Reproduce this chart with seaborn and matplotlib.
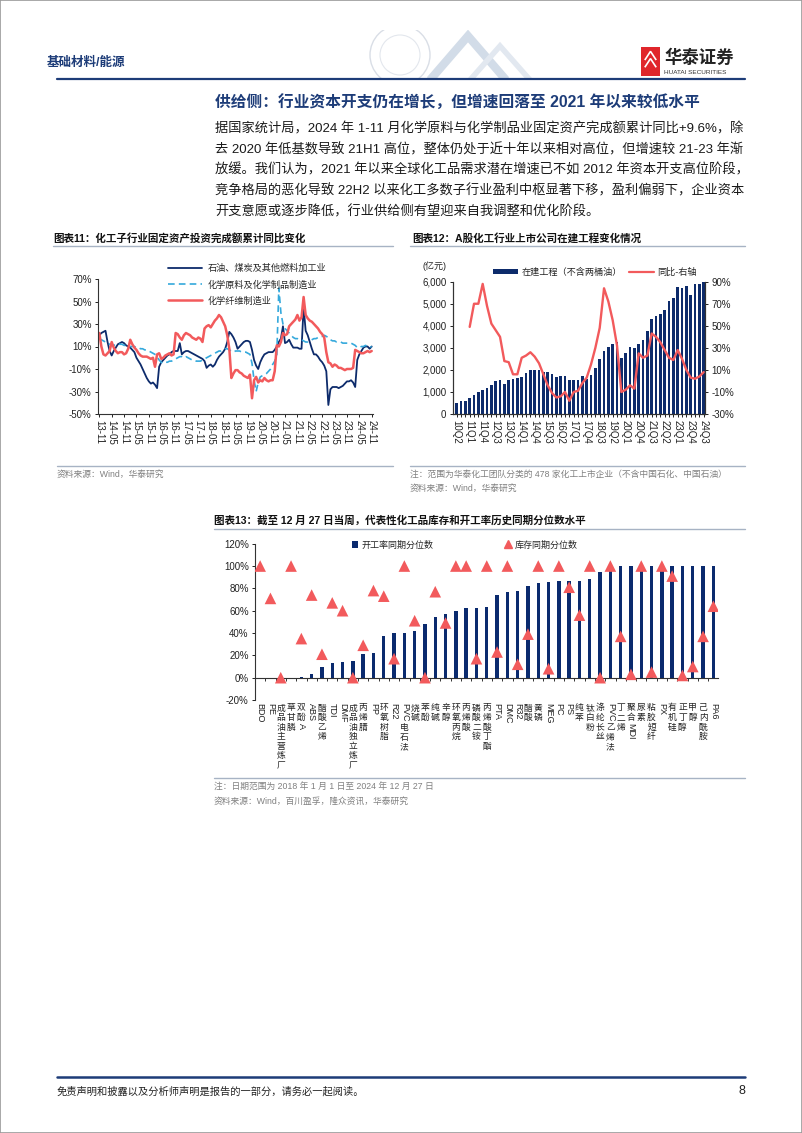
import numpy as np
import pandas as pd
import matplotlib
matplotlib.use('Agg')
import matplotlib.pyplot as plt
import matplotlib.ticker as mticker
import seaborn as sns
from matplotlib.lines import Line2D
from matplotlib.patches import Rectangle, Circle, Polygon
from matplotlib.textpath import TextPath
from matplotlib.font_manager import FontProperties

sns.set_theme(style='ticks')
plt.rcParams['font.family'] = ['Liberation Sans', 'Noto Sans CJK SC']
plt.rcParams['axes.unicode_minus'] = False
plt.rcParams['patch.force_edgecolor'] = False

# ---------------- data: chart 11 (monthly, 2013-11 .. 2024-11) ----------------
months = pd.period_range('2013-11', '2024-11', freq='M')
month_labels = [p.strftime('%y-%m') for p in months]
s11_names = ['石油、煤炭及其他燃料加工业', '化学原料及化学制品制造业', '化学纤维制造业']
petro = [20,22,23,24,14,6,2,6,9,12, 13,14,13,11,10,9,7,5,0,-3,
         -6,-10,-14,-18,-21,-23,-22,-24,-27,-8, -4,-2,0,2,3,5,6,6,6,13,
         3,5,6,6,5,4,3,2,1,0, -1,-3,-9,-7,-6,-8,-6,-2,1,3,
         5,8,14,23,21,18,14,8,10,12, 14,15,15,14,7,-2,-7,-10,-4,0,
         3,4,5,5,5,7,10,14,17,28, 13,14,16,12,9,9,9,8,8,45,
         24,20,14,8,3,3,1,-2,-4,-7, -12,-42,-28,-26,-26,-26,-27,-26,-25,-23,
         -21,-21,-20,-22,-26,-2,3,6,9,10, 10,8,10]
chem = [17,16,15,14,13,12,12,11,12,12, 12,12,11,11,10,10,10,10,9,9,
        8,8,7,7,6,5,4,3,1,-2, -4,-5,-4,-4,-3,-3,-2,-1,0,1,
        1,0,1,0,-1,-2,-2,-3,-3,-3, -2,-1,0,1,2,3,4,5,6,6,
        7,8,8,7,6,5,6,6,6,5, 5,5,4,3,-5,-20,-30,-22,-17,-16,
        -15,-14,-12,-10,-6,-3,2,62,40,30, 26,24,22,20,18,17,17,16,16,15,
        14,14,15,16,17,17,18,19,19,20, 19,18,16,15,15,14,14,14,13,13,
        13,13,13,12,11,9,9,10,10,11, 10,9,10]
fiber = [22,10,3,2,4,6,14,9,6,4, 5,5,3,4,8,16,12,9,7,4,
         2,1,1,1,0,-1,0,-8,3,4, -1,0,2,3,4,2,3,22,21,18,
         16,20,22,21,20,18,17,16,18,17, 14,26,28,29,27,30,33,35,38,36,
         32,28,20,8,-18,-14,-11,-11,-13,-14, -16,-17,-18,-15,-36,-20,-17,-22,-20,-21,
         -18,-20,-21,-20,-20,-12,11,10,14,22, 20,21,28,30,32,34,38,33,36,54,
         38,35,33,32,30,28,26,23,21,18, 5,-4,-5,-8,-6,-7,-9,-9,-10,-11,
         -10,-10,-10,-9,7,6,5,4,4,5, 6,5,6]

# ---------------- data: chart 12 (quarterly, 10Q2 .. 24Q3) ----------------
quarters = [f'{y % 100:02d}Q{q}' for y in range(2010, 2025) for q in range(1, 5)][1:-1]
cip = [510,610,590,710,860,1010,1100,1180,1300,1500,
       1530,1380,1530,1590,1640,1680,1860,2010,2010,2000,
       1910,1900,1830,1690,1710,1710,1530,1560,1560,1710,
       1590,1760,2090,2510,2840,3060,3160,3270,2560,2770,
       3050,3010,3190,3340,3760,4300,4450,4540,4720,5140,
       5260,5770,5710,5790,5410,5890,5890,6000]
yoy_start = 3  # yoy series begins at 11Q1
yoy = [49,70,70,88,68,52,46,40,18,17,
       6,6,21,23,26,22,16,6,-4,-11,
       -15,-14,-10,-18,-10,-9,-2,3,15,30,
       48,84,72,55,32,-10,-8,-4,-7,25,
       21,23,43,40,35,28,21,19,28,20,
       10,3,2,4,8]

# ---------------- data: chart 13 ----------------
products = ['BDO','PE','成品油主营炼厂','草甘膦','双酚A','ABS','醋酸乙烯','TDI','DMF','成品油独立炼厂',
            '丙烯腈','PP','环氧树脂','R22','PVC电石法','烧碱','苯酚','纯碱','辛醇','环氧丙烷',
            '丙烯酸','磷酸二铵','丙烯酸丁酯','PTA','DMC','R32','醋酸','黄磷','MEG','PC',
            'PS','纯苯','钛白粉','涤纶长丝','PVC乙烯法','丁二烯','聚合MDI','尿素','粘胶短纤','PX',
            '有机硅','正丁醇','甲醇','己内酰胺','PA6']
run_pct = [0,0,0,0,0.8,3,10,13,14,15,
           21,22,37,40,40,42,48,54,57,60,
           62,62,63,74,77,78,82,85,86,87,
           87,87,88,95,100,100,100,100,100,100,
           100,100,100,100,100]
inv_pct = [100,71,0,100,35,74,21,67,60,0,
           29,78,73,17,100,51,0,77,49,100,
           100,17,100,23,100,12,39,100,8,100,
           81,56,100,0,100,37,3,100,5,100,
           91,2,10,37,64]

NAVY = '#0D2B6B'
RED = '#F25A5C'
CYAN = '#35A9DC'
DARKBLUE = '#1D3C78'
GRAY = '#808080'

W, H = 802, 1133
fig = plt.figure(figsize=(W / 100, H / 100), dpi=100)
fig.patch.set_facecolor('white')

def fx(x):
    return x / W

def fy(y):
    return 1 - y / H

def ftext(x, y, s, **kw):
    kw.setdefault('va', 'center')
    fig.text(fx(x), fy(y), s, **kw)

def fline(x0, x1, y, **kw):
    fig.add_artist(Line2D([fx(x0), fx(x1)], [fy(y), fy(y)], transform=fig.transFigure, **kw))

def axes_px(l, t, r, b):
    return fig.add_axes([fx(l), fy(b), (r - l) / W, (b - t) / H])

pct = mticker.FuncFormatter(lambda v, p: f'{v:.0f}%')

# ---------------- page header / footer ----------------
fig.add_artist(Rectangle((0, 0), 1, 1, transform=fig.transFigure, fill=False, ec='#9a9a9a', lw=1.2))
deco = axes_px(300, 30, 560, 80)
deco.set_xlim(300, 560)
deco.set_ylim(80, 30)
deco.axis('off')
deco.add_patch(Circle((400, 55), 30, fc='none', ec='#D9DEE6', lw=1.0))
deco.add_patch(Circle((400, 55), 20, fc='none', ec='#E3E7ED', lw=0.8))
deco.add_patch(Polygon([(430, 80), (468, 36), (506, 80)], closed=False, fc='none', ec='#D2DCE8', lw=6))
deco.add_patch(Polygon([(470, 80), (500, 46), (530, 80)], closed=False, fc='none', ec='#E2E8F0', lw=4))

ftext(47, 63, '基础材料/能源', fontsize=9, fontweight='bold', color=DARKBLUE)
fline(57, 745, 79, color=DARKBLUE, lw=1.6)
# logo block
logo = axes_px(641, 47, 660, 76)
logo.set_xlim(0, 1)
logo.set_ylim(0, 1)
logo.axis('off')
logo.add_patch(Rectangle((0, 0), 1, 1, fc='#E0262B', ec='none'))
logo.add_patch(Polygon([(0.2, 0.55), (0.5, 0.85), (0.8, 0.55)], closed=False, fc='none', ec='white', lw=1.2))
logo.add_patch(Polygon([(0.2, 0.3), (0.5, 0.6), (0.8, 0.3)], closed=False, fc='none', ec='white', lw=1.2))
ftext(664, 57, '华泰证券', fontsize=12.5, fontweight='bold', color='#222222')
ftext(664, 72, 'HUATAI SECURITIES', fontsize=4.6, color='#333333')

ftext(215, 103, '供给侧：行业资本开支仍在增长，但增速回落至 2021 年以来较低水平',
      fontsize=11.3, fontweight='bold', color=DARKBLUE)
body = ['据国家统计局，2024 年 1-11 月化学原料与化学制品业固定资产完成额累计同比+9.6%，除',
        '去 2020 年低基数导致 21H1 高位，整体仍处于近十年以来相对高位，但增速较 21-23 年渐',
        '放缓。我们认为，2021 年以来全球化工品需求潜在增速已不如 2012 年资本开支高位阶段，',
        '竞争格局的恶化导致 22H2 以来化工多数子行业盈利中枢显著下移，盈利偏弱下，企业资本',
        '开支意愿或逐步降低，行业供给侧有望迎来自我调整和优化阶段。']
for k, line in enumerate(body):
    ftext(215, 129 + k * 20.6, line, fontsize=9.5, color='#1a1a1a')

fline(57, 745, 1077, color=DARKBLUE, lw=1.8)
ftext(57, 1091, '免责声明和披露以及分析师声明是报告的一部分，请务必一起阅读。', fontsize=7.4,
      color='#222222', style='italic')
ftext(745, 1091, '8', fontsize=9, color='#222222', ha='right')

# ---------------- chart 11 ----------------
ftext(53, 238, '图表11：化工子行业固定资产投资完成额累计同比变化', fontsize=7.6, fontweight='bold', color='#111111')
fline(53, 393, 246, color='#A7B3C4', lw=1.0)
fline(57, 393, 466, color='#A7B3C4', lw=1.0)
ftext(57, 474, '资料来源：Wind，华泰研究', fontsize=6.3, color=GRAY)

ax1 = axes_px(98, 279, 373, 414)
x11 = np.arange(len(months))
sns.lineplot(x=x11, y=petro, ax=ax1, color=NAVY, lw=1.3, label=s11_names[0])
sns.lineplot(x=x11, y=chem, ax=ax1, color=CYAN, lw=1.2, linestyle=(0, (4, 2.5)), label=s11_names[1])
sns.lineplot(x=x11, y=fiber, ax=ax1, color=RED, lw=1.8, label=s11_names[2])
h11, l11 = ax1.get_legend_handles_labels()
ax1.legend_.remove()
fig.legend(h11, l11, loc='upper left', bbox_to_anchor=(fx(168), fy(264)), frameon=False,
           fontsize=6.6, handlelength=3.7, handletextpad=0.6, labelspacing=0.75,
           borderpad=0, borderaxespad=0)
ax1.set_ylim(-50, 70)
ax1.set_yticks(np.arange(-50, 71, 20))
ax1.yaxis.set_major_formatter(pct)
ax1.set_xlim(-0.63, len(months) - 1 + 0.63)
ax1.set_xticks(x11[::6])
ax1.set_xticklabels(month_labels[::6], rotation=270)
ax1.tick_params(axis='both', labelsize=7, length=2.5, width=0.7, pad=2, colors='#222222')
for s in ['top', 'right']:
    ax1.spines[s].set_visible(False)
for s in ['left', 'bottom']:
    ax1.spines[s].set_linewidth(0.8)
    ax1.spines[s].set_color('#333333')
ax1.set_xlabel('')
ax1.set_ylabel('')
ax1.patch.set_alpha(0)

# ---------------- chart 12 ----------------
ftext(412, 238, '图表12：A股化工行业上市公司在建工程变化情况', fontsize=7.6, fontweight='bold', color='#111111')
fline(410, 745, 246, color='#A7B3C4', lw=1.0)
fline(410, 745, 466, color='#A7B3C4', lw=1.0)
ftext(410, 474, '注：范围为华泰化工团队分类的 478 家化工上市企业（不含中国石化、中国石油）', fontsize=6.3, color=GRAY)
ftext(410, 488, '资料来源：Wind，华泰研究', fontsize=6.3, color=GRAY)

ax2 = axes_px(452.7, 281.7, 705, 414)
sns.barplot(x=quarters, y=cip, ax=ax2, color=NAVY, width=0.62, saturation=1,
            edgecolor='none', linewidth=0)
ax2r = ax2.twinx()
xq = np.arange(len(quarters))
sns.lineplot(x=xq[yoy_start:], y=yoy, ax=ax2r, color=RED, lw=1.7)
ax2.set_ylim(0, 6000)
ax2.set_yticks(np.arange(0, 6001, 1000))
ax2.yaxis.set_major_formatter(mticker.FuncFormatter(lambda v, p: f'{v:,.0f}'))
ax2r.set_ylim(-30, 90)
ax2r.set_yticks(np.arange(-30, 91, 20))
ax2r.yaxis.set_major_formatter(pct)
ax2.set_xlim(-0.92, len(quarters) - 1 + 0.3)
ax2.set_xticks(xq)
ax2.set_xticklabels([q if i % 3 == 0 else '' for i, q in enumerate(quarters)], rotation=270)
for a in (ax2, ax2r):
    a.tick_params(axis='both', labelsize=7, length=2.5, width=0.7, pad=2, colors='#222222')
    a.spines['top'].set_visible(False)
    for s in ['left', 'right', 'bottom']:
        a.spines[s].set_linewidth(0.8)
        a.spines[s].set_color('#333333')
    a.set_xlabel('')
    a.set_ylabel('')
ax2.tick_params(axis='x', length=2)
ftext(434, 266, '(亿元)', fontsize=6.5, color='#222222', ha='center')
fig.legend([Rectangle((0, 0), 1, 1, fc=NAVY, ec='none'), Line2D([], [], color=RED, lw=1.6)],
           ['在建工程（不含两桶油）', '同比-右轴'], loc='center left',
           bbox_to_anchor=(fx(493), fy(272)), ncol=2, frameon=False, fontsize=6.6,
           handlelength=2.7, handleheight=0.55, handletextpad=0.4, columnspacing=0.8,
           borderpad=0, borderaxespad=0)

# ---------------- chart 13 ----------------
ftext(214, 521, '图表13：截至 12 月 27 日当周，代表性化工品库存和开工率历史同期分位数水平',
      fontsize=7.6, fontweight='bold', color='#111111')
fline(214, 745, 529, color='#A7B3C4', lw=1.0)
fline(214, 745, 778, color='#A7B3C4', lw=1.0)
ftext(214, 787, '注：日期范围为 2018 年 1 月 1 日至 2024 年 12 月 27 日', fontsize=6.3, color=GRAY)
ftext(214, 801, '资料来源：Wind，百川盈孚，隆众资讯，华泰研究', fontsize=6.3, color=GRAY)

ax3 = axes_px(255, 543.7, 718, 700)
sns.barplot(x=products, y=run_pct, ax=ax3, color='#0A2A6E', width=0.33, saturation=1,
            edgecolor='none', linewidth=0)
xp = np.arange(len(products))
sns.scatterplot(x=xp, y=inv_pct, ax=ax3, marker='^', s=70, color=RED, edgecolor='none', zorder=3)
ax3.set_ylim(-20, 120)
ax3.set_yticks(np.arange(-20, 121, 20))
ax3.yaxis.set_major_formatter(pct)
ax3.set_xlim(-0.5, len(products) - 1 + 0.45)
ax3.set_xticks(xp)
ax3.set_xticklabels([''] * len(products))
ax3.tick_params(axis='x', length=0)
ax3.tick_params(axis='y', labelsize=7, length=2.5, width=0.7, pad=2, colors='#222222')
for s in ['top', 'right', 'bottom']:
    ax3.spines[s].set_visible(False)
ax3.spines['left'].set_linewidth(0.8)
ax3.spines['left'].set_color('#333333')
ax3.set_xlabel('')
ax3.set_ylabel('')
sec = ax3.secondary_xaxis(20 / 140)
sec.set_xticks(np.arange(-0.5, len(products), 1))
sec.tick_params(axis='x', length=2.5, width=0.7, labelbottom=False, labeltop=False, colors='#333333')
sec.spines['bottom'].set_linewidth(0.8)
sec.spines['bottom'].set_color('#333333')

fig.legend([Rectangle((0, 0), 1, 1, fc='#0A2A6E', ec='none'),
            Line2D([], [], marker='^', ls='', color=RED, ms=5.5)],
           ['开工率同期分位数', '库存同期分位数'], loc='center left',
           bbox_to_anchor=(fx(352), fy(545)), ncol=2, frameon=False, fontsize=6.5,
           handlelength=0.7, handleheight=0.7, handletextpad=0.3, columnspacing=8.0,
           borderpad=0, borderaxespad=0)

fp_lat = FontProperties(family='Liberation Sans', size=6.5)

def is_cjk(ch):
    return ord(ch) > 0x2E80

def segments(s):
    segs, cur, curc = [], '', None
    for ch in s:
        c = is_cjk(ch)
        if curc is None or c == curc:
            cur += ch
        else:
            segs.append((cur, curc))
            cur = ch
        curc = c
    segs.append((cur, curc))
    return segs

xt = ax3.get_xaxis_transform()
for i, name in enumerate(products):
    off = 2.5
    for seg, cjk in segments(name):
        if cjk:
            for ch in seg:
                ax3.annotate(ch, xy=(i, 0), xycoords=xt, xytext=(0, -off), textcoords='offset points',
                             ha='center', va='top', fontsize=6.3, family='Noto Sans CJK SC',
                             color='#222222', annotation_clip=False)
                off += 6.9
        else:
            w = TextPath((0, 0), seg, prop=fp_lat).get_extents().width
            ax3.annotate(seg, xy=(i, 0), xycoords=xt, xytext=(0, -off), textcoords='offset points',
                         ha='center', va='top', rotation=270, fontsize=6.5, family='Liberation Sans',
                         color='#222222', annotation_clip=False)
            off += w + 1.5

fig.savefig('out.png', dpi=100)
